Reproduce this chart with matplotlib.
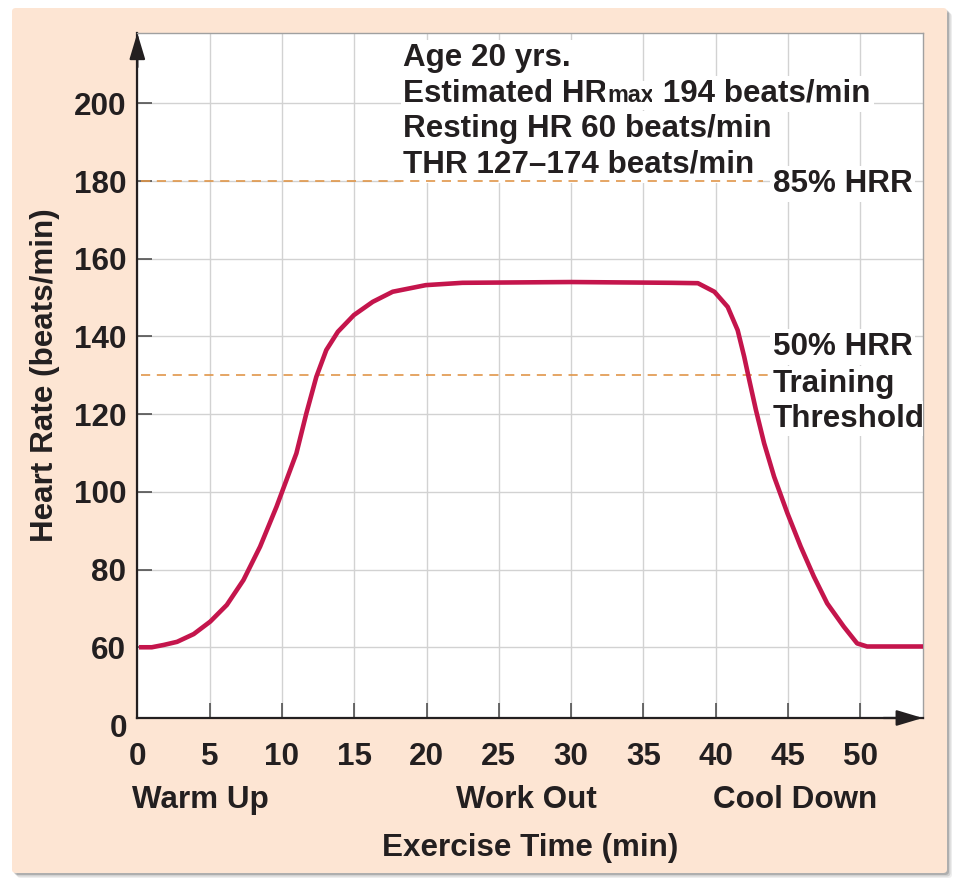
import matplotlib
matplotlib.use("Agg")
import matplotlib.pyplot as plt
from matplotlib.patches import FancyBboxPatch

plt.rcParams['font.family'] = ['Liberation Sans', 'DejaVu Sans']
plt.rcParams['font.weight'] = 'bold'
plt.rcParams['axes.labelweight'] = 'bold'

# heart rate curve (min, beats/min)
time_min = [0.27, 1.0, 1.83, 2.75, 3.90, 5.04, 6.19, 7.34, 8.49, 9.63, 10.32, 11.0,
            11.69, 12.38, 13.07, 13.87, 14.98, 16.28, 17.66, 19.95, 22.48, 30.0,
            36.93, 38.77, 39.91, 40.83, 41.52, 41.97, 42.32, 42.78, 43.35, 44.04,
            44.96, 45.88, 46.79, 47.71, 48.86, 49.78, 50.47, 54.32]
heart_rate = [60, 60, 60.6, 61.4, 63.4, 66.6, 70.9, 77.3, 85.9, 96.2, 103.1, 109.9,
              120.2, 129.6, 136.5, 141.2, 145.5, 148.9, 151.5, 153.2, 153.8, 154,
              153.8, 153.7, 151.5, 147.6, 141.6, 134.8, 128.8, 121.1, 112.5, 103.9,
              94.5, 85.9, 78.2, 71.3, 65.3, 61.0, 60.2, 60.2]

x_ticks = [0, 5, 10, 15, 20, 25, 30, 35, 40, 45, 50]
y_ticks = [60, 80, 100, 120, 140, 160, 180, 200]
hrr_85 = 180
hrr_50 = 130
info_lines = ["Age 20 yrs.", "Resting HR 60 beats/min", "THR 127\u2013174 beats/min"]
phases = ["Warm Up", "Work Out", "Cool Down"]
phase_x = [-0.37, 26.9, 45.5]

ink = '#231f20'
red = '#c4154c'
orange = '#e0964a'
grid_c = '#d2d2d2'

fig = plt.figure(figsize=(9.63, 8.84), dpi=100)

# beige panel with a small shadow
for i, a in enumerate([0.10, 0.18, 0.28]):
    off = (5 - i * 1.5)
    sh = FancyBboxPatch((12 / 963 + off / 963, 11 / 884 - off / 884), 935 / 963, 865 / 884,
                        boxstyle="round,pad=0,rounding_size=0.004", transform=fig.transFigure,
                        facecolor='#555555', edgecolor='none', alpha=a, zorder=-3)
    fig.add_artist(sh)
panel = FancyBboxPatch((12 / 963, 11 / 884), 935 / 963, 865 / 884,
                       boxstyle="round,pad=0,rounding_size=0.004", transform=fig.transFigure,
                       facecolor='#fde5d3', edgecolor='none', zorder=-2)
fig.add_artist(panel)

ax = fig.add_axes([0.1426, 0.1878, 0.8156, 0.7749])
ax.set_facecolor('white')
ax.set_xlim(0.27, 54.32)
ax.set_ylim(41.8, 218.1)

fs = 22.6
ax.set_xticks(x_ticks)
ax.set_yticks(y_ticks)
ax.set_xticklabels([str(v) for v in x_ticks])
ax.set_yticklabels([str(v) for v in y_ticks])
ax.tick_params(axis='both', direction='in', length=11, width=1.1, colors='#444444',
               labelsize=fs, labelcolor=ink)
ax.tick_params(axis='x', pad=17)
ax.tick_params(axis='y', pad=8)
ax.grid(True, color=grid_c, lw=1.0)

for s in ['left', 'bottom']:
    ax.spines[s].set_color(ink)
    ax.spines[s].set_linewidth(1.6)
for s in ['top', 'right']:
    ax.spines[s].set_color('#a0a0a0')
    ax.spines[s].set_linewidth(1.0)

# arrow heads on the axes
ax.annotate('', xy=(0, 1.0), xytext=(0, 0.95), xycoords='axes fraction',
            arrowprops=dict(arrowstyle='-|>,head_length=1.0,head_width=0.3', color=ink,
                            lw=1.6, mutation_scale=16, shrinkA=0, shrinkB=0), annotation_clip=False)
ax.annotate('', xy=(1.0, 0), xytext=(0.95, 0), xycoords='axes fraction',
            arrowprops=dict(arrowstyle='-|>,head_length=1.0,head_width=0.3', color=ink,
                            lw=1.6, mutation_scale=16, shrinkA=0, shrinkB=0), annotation_clip=False)

# threshold lines
ax.plot([0.27, 43.3], [hrr_85, hrr_85], ls=(0, (5.5, 4)), color=orange, lw=1.2, zorder=3.5)
ax.plot([0.27, 43.9], [hrr_50, hrr_50], ls=(0, (5.5, 4)), color=orange, lw=1.2, zorder=3.5)

ax.plot(time_min, heart_rate, color=red, lw=3.3, solid_joinstyle='round', zorder=4)

box = dict(facecolor='white', edgecolor='none', pad=2)
ax.text(18.4, 209.6, info_lines[0], fontsize=fs, color=ink, va='baseline', bbox=box)
t1 = ax.text(18.4, 200.4, "Estimated HR", fontsize=fs, color=ink, va='baseline', bbox=box)
ax.text(18.4, 191.4, info_lines[1], fontsize=fs, color=ink, va='baseline', bbox=box)
ax.text(18.4, 182.1, info_lines[2], fontsize=fs, color=ink, va='baseline', bbox=box)

fig.canvas.draw()
r = fig.canvas.get_renderer()
inv = ax.transData.inverted()
x_end = inv.transform(t1.get_window_extent(r).get_points())[1][0]
t2 = ax.text(x_end, 200.4, "max", fontsize=16.8, color=ink, va='baseline', bbox=box)
x_end = inv.transform(t2.get_window_extent(r).get_points())[1][0]
ax.text(x_end, 200.4, " 194 beats/min", fontsize=fs, color=ink, va='baseline', bbox=box)

ax.text(43.95, 177.1, "85% HRR", fontsize=fs, color=ink, va='baseline', bbox=box)
ax.text(43.95, 135.2, "50% HRR", fontsize=fs, color=ink, va='baseline', bbox=box)
ax.text(43.95, 125.8, "Training", fontsize=fs, color=ink, va='baseline', bbox=box)
ax.text(43.95, 116.8, "Threshold", fontsize=fs, color=ink, va='baseline', bbox=box,
        clip_on=True)

# the origin "0" of the y axis
ax.text(-0.0246, -0.016, "0", transform=ax.transAxes, fontsize=fs, color=ink,
        ha='center', va='center')

xt = ax.get_xaxis_transform()
ax.text(phase_x[0], -0.131, phases[0], transform=xt, fontsize=fs, color=ink, ha='left', va='baseline')
ax.text(phase_x[1], -0.131, phases[1], transform=xt, fontsize=fs, color=ink, ha='center', va='baseline')
ax.text(phase_x[2], -0.131, phases[2], transform=xt, fontsize=fs, color=ink, ha='center', va='baseline')

ax.set_xlabel("Exercise Time (min)", fontsize=fs, color=ink, labelpad=44)
ax.set_ylabel("Heart Rate (beats/min)", fontsize=fs, color=ink, labelpad=10)

fig.savefig("out.png", dpi=100)
